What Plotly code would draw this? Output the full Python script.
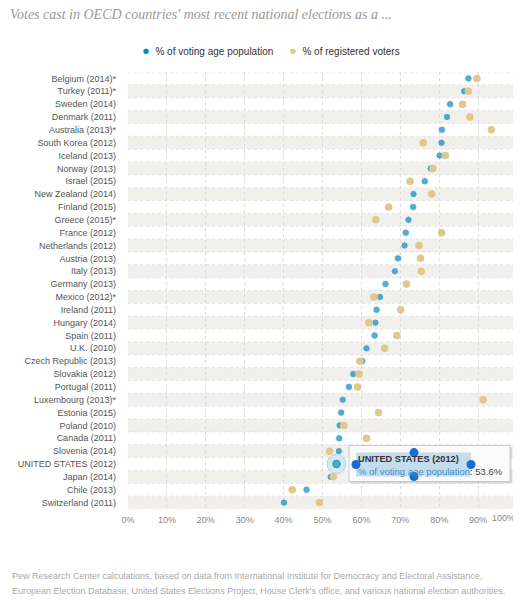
import plotly.graph_objects as go

# Rows top to bottom
COUNTRIES = [
    "Belgium (2014)*", "Turkey (2011)*", "Sweden (2014)", "Denmark (2011)",
    "Australia (2013)*", "South Korea (2012)", "Iceland (2013)", "Norway (2013)",
    "Israel (2015)", "New Zealand (2014)", "Finland (2015)", "Greece (2015)*",
    "France (2012)", "Netherlands (2012)", "Austria (2013)", "Italy (2013)",
    "Germany (2013)", "Mexico (2012)*", "Ireland (2011)", "Hungary (2014)",
    "Spain (2011)", "U.K. (2010)", "Czech Republic (2013)", "Slovakia (2012)",
    "Portugal (2011)", "Luxembourg (2013)*", "Estonia (2015)", "Poland (2010)",
    "Canada (2011)", "Slovenia (2014)", "UNITED STATES (2012)", "Japan (2014)",
    "Chile (2013)", "Switzerland (2011)",
]
VOTING_AGE = [
    87.5, 86.4, 82.8, 82.0, 80.7, 80.6, 80.1, 77.8, 76.3, 73.4, 73.3, 72.1,
    71.4, 71.1, 69.4, 68.6, 66.2, 64.8, 63.9, 63.6, 63.4, 61.3, 60.2, 57.9,
    56.8, 55.2, 54.8, 54.4, 54.3, 54.2, 53.6, 52.1, 45.9, 40.1,
]
REGISTERED = [
    89.7, 87.5, 86.0, 87.9, 93.4, 75.9, 81.6, 78.4, 72.5, 78.1, 67.0, 63.7,
    80.6, 74.8, 75.2, 75.4, 71.6, 63.2, 70.1, 61.9, 69.1, 66.0, 59.6, 59.4,
    59.0, 91.3, 64.4, 55.5, 61.3, 51.8, 84.3, 52.8, 42.2, 49.2,
]
X_TICKS = [0, 10, 20, 30, 40, 50, 60, 70, 80, 90, 100]
SERIES = ["% of voting age population", "% of registered voters"]
HIGHLIGHT = "UNITED STATES (2012)"

BLUE = "#1187bb"
GOLD = "#e0c88a"
BAND = "#f2f0ec"
FONT = "Liberation Sans"

# the page adds an 8px body margin, so the figure is drawn 8px smaller
OFF = 8
W, H = 521 - OFF, 600 - OFF
# plot area in page pixels
L, R, T, B = 128, 517, 72, 509.5


def px(x):
    return (x - L) / (R - L)


def py(y):
    return (B - y) / (B - T)


fig = go.Figure()

hi = COUNTRIES.index(HIGHLIGHT)
fig.add_trace(go.Scatter(
    x=[VOTING_AGE[hi]], y=[HIGHLIGHT], mode="markers", showlegend=False,
    hoverinfo="skip",
    marker=dict(size=19, color="#d3e9f3", line=dict(color="#a8d2e6", width=1)),
))
fig.add_trace(go.Scatter(
    x=VOTING_AGE, y=COUNTRIES, mode="markers", name=SERIES[0], showlegend=False,
    marker=dict(size=[10 if c == HIGHLIGHT else 7.5 for c in COUNTRIES], color=BLUE),
))
fig.add_trace(go.Scatter(
    x=REGISTERED, y=COUNTRIES, mode="markers", name=SERIES[1], showlegend=False,
    marker=dict(size=7.5, color=GOLD),
))

shapes = []
for i in range(len(COUNTRIES)):
    if i % 2 == 1:
        shapes.append(dict(type="rect", xref="x domain", yref="y", x0=0, x1=1,
                           y0=i - 0.5, y1=i + 0.5, fillcolor=BAND, line_width=0,
                           layer="below"))
for i in range(len(COUNTRIES) + 1):
    shapes.append(dict(type="line", xref="x domain", yref="y", x0=0, x1=1,
                       y0=i - 0.5, y1=i - 0.5, layer="below",
                       line=dict(color="#e4e4e4", width=1, dash="dot")))

# tooltip box, shadow, selection highlight and handles
shapes += [
    dict(type="rect", xref="paper", yref="paper", x0=px(351), x1=px(512),
         y0=py(484), y1=py(448), fillcolor="rgba(0,0,0,0.10)", line_width=0),
    dict(type="rect", xref="paper", yref="paper", x0=px(349), x1=px(510),
         y0=py(482), y1=py(446), fillcolor="#fbfbfb",
         line=dict(color="#c8c8c8", width=1)),
    dict(type="rect", xref="paper", yref="paper", x0=px(356), x1=px(471),
         y0=py(477), y1=py(453), fillcolor="#c5dcef", line_width=0),
]
for hx, hy in [(414, 453), (356, 465), (471, 465), (414, 477)]:
    shapes.append(dict(type="circle", xref="paper", yref="paper",
                       x0=px(hx - 4.5), x1=px(hx + 4.5), y0=py(hy + 4.5), y1=py(hy - 4.5),
                       fillcolor="#1a6ad8", line_width=0))

annotations = [
    # legend
    dict(xref="paper", yref="paper", x=px(140), y=py(50), xanchor="left",
         yanchor="middle", showarrow=False,
         text=f"<span style='color:{BLUE};font-size:13px'>●</span>  {SERIES[0]}",
         font=dict(family=FONT, size=10, color="#333")),
    dict(xref="paper", yref="paper", x=px(287), y=py(50), xanchor="left",
         yanchor="middle", showarrow=False,
         text=f"<span style='color:{GOLD};font-size:13px'>●</span>  {SERIES[1]}",
         font=dict(family=FONT, size=10, color="#333")),
    # tooltip text
    dict(xref="paper", yref="paper", x=px(356), y=py(459), xanchor="left",
         yanchor="middle", showarrow=False, align="left",
         text=f"<b>{HIGHLIGHT}</b>", font=dict(family=FONT, size=9.2, color="#333")),
    dict(xref="paper", yref="paper", x=px(356), y=py(472), xanchor="left",
         yanchor="middle", showarrow=False, align="left",
         text=f"<span style='color:#3f8ec6'>{SERIES[0]}</span>: {VOTING_AGE[hi]}%",
         font=dict(family=FONT, size=9.5, color="#444")),
    # last tick label, kept inside the right edge
    dict(xref="paper", yref="paper", x=1, y=py(519), xanchor="right", yanchor="middle",
         showarrow=False, text="100%", font=dict(family=FONT, size=9, color="#888")),
    # source note
    dict(xref="paper", yref="paper", x=px(10), y=py(577), xanchor="left", yanchor="middle",
         showarrow=False,
         text="Pew Research Center calculations, based on data from International Institute for Democracy and Electoral Assistance,",
         font=dict(family=FONT, size=9, color="#aaa")),
    dict(xref="paper", yref="paper", x=px(10), y=py(592), xanchor="left", yanchor="middle",
         showarrow=False,
         text="European Election Database, United States Elections Project, House Clerk's office, and various national election authorities.",
         font=dict(family=FONT, size=9, color="#aaa")),
]

fig.update_layout(
    width=W, height=H,
    margin=dict(l=L - OFF, r=W - (R - OFF), t=T - OFF, b=H - (B - OFF), autoexpand=False),
    paper_bgcolor="white", plot_bgcolor="white",
    title=dict(text="<i>Votes cast in OECD countries' most recent national elections as a ...</i>",
               x=(10 - OFF) / W, xanchor="left", y=1 - (14.5 - OFF) / H, yanchor="middle",
               font=dict(family="Liberation Serif", size=14, color="#9a9a9a")),
    showlegend=False,
    shapes=shapes,
    annotations=annotations,
    hovermode="closest",
)
fig.update_xaxes(
    range=[0, 100], tickmode="array", tickvals=X_TICKS,
    ticktext=[f"{v}%" if v < 100 else "" for v in X_TICKS],
    showgrid=True, gridcolor="#dcdcdc", griddash="dot", zeroline=False, showline=False,
    tickfont=dict(family=FONT, size=9, color="#888"), ticks="", ticklabelstandoff=4,
    automargin=False, fixedrange=True,
)
fig.update_yaxes(
    categoryorder="array", categoryarray=COUNTRIES, tickmode="linear", dtick=1,
    range=[len(COUNTRIES) - 0.5, -0.5], showgrid=False, zeroline=False,
    tickfont=dict(family=FONT, size=9, color="#555"), ticklabelstandoff=11,
    automargin=False, fixedrange=True,
)

fig.write_html("out.html")
